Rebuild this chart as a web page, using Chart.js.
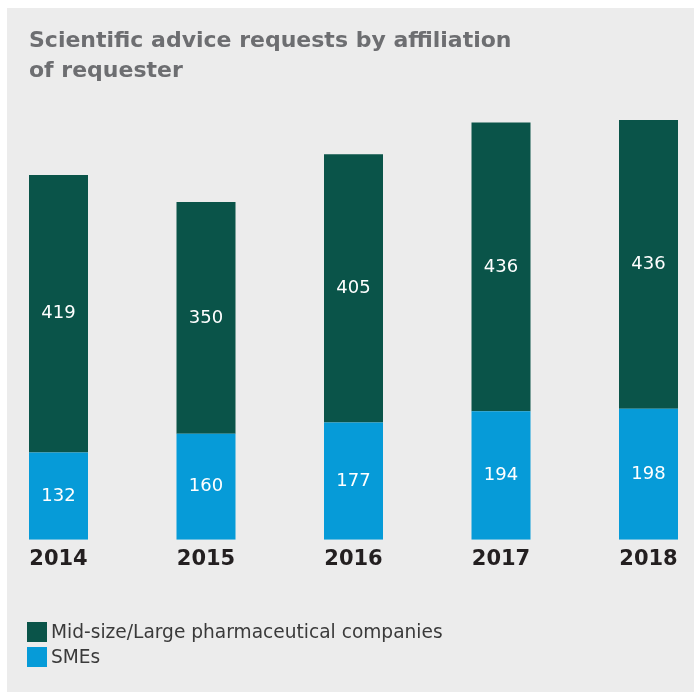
<!DOCTYPE html>
<html>
<head>
<meta charset="utf-8">
<script src="https://cdn.jsdelivr.net/npm/chart.js@4"></script>
<style>
  html, body { margin: 0; padding: 0; background: #ffffff; }
  #panel { position: absolute; left: 7px; top: 8px; width: 687px; height: 684px; background: #ececec; }
</style>
</head>
<body>
<div id="panel"><canvas id="myChart" width="687" height="684"></canvas></div>
<script>
const years = ['2014', '2015', '2016', '2017', '2018'];
const largeCompanies = [419, 350, 405, 436, 436];
const smes = [132, 160, 177, 194, 198];
const seriesNames = ['Mid-size/Large pharmaceutical companies', 'SMEs'];

const FONT = '"DejaVu Sans", Verdana, sans-serif';
const ctx = document.getElementById('myChart').getContext('2d');

// values written in the middle of each bar segment
const segmentLabels = {
    id: 'segmentLabels',
    afterDatasetsDraw(chart) {
        const c = chart.ctx;
        c.save();
        c.font = '18px ' + FONT;
        c.fillStyle = '#ffffff';
        c.textAlign = 'center';
        c.textBaseline = 'middle';
        chart.data.datasets.forEach((ds, i) => {
            chart.getDatasetMeta(i).data.forEach((bar, j) => {
                c.fillText(String(ds.data[j].y), bar.x, (bar.y + bar.base) / 2);
            });
        });
        c.restore();
    }
};

// stacked legend in the bottom left corner
const columnLegend = {
    id: 'columnLegend',
    afterDraw(chart) {
        const c = chart.ctx;
        c.save();
        c.font = '18.6px ' + FONT;
        c.textBaseline = 'middle';
        c.textAlign = 'left';
        const order = [1, 0];
        order.forEach((dsIndex, row) => {
            const ds = chart.data.datasets[dsIndex];
            const y = 614 + row * 25;
            c.fillStyle = ds.backgroundColor;
            c.fillRect(20, y, 20, 20);
            c.fillStyle = '#3a3a3a';
            c.fillText(ds.label, 44, y + 11);
        });
        c.restore();
    }
};

const myChart = new Chart(ctx, {
    type: 'bar',
    data: {
        datasets: [{
            label: seriesNames[1],
            data: smes.map((v, i) => ({ x: i, y: v })),
            backgroundColor: '#069bd8',
            barPercentage: 0.4,
            categoryPercentage: 1
        }, {
            label: seriesNames[0],
            data: largeCompanies.map((v, i) => ({ x: i, y: v })),
            backgroundColor: '#0a5449',
            barPercentage: 0.4,
            categoryPercentage: 1
        }]
    },
    options: {
        responsive: false,
        animation: false,
        layout: {
            padding: { left: 22, right: 16, top: 0, bottom: 113 }
        },
        scales: {
            x: {
                type: 'linear',
                stacked: true,
                offset: false,
                min: -0.2,
                max: 4.2,
                grid: { display: false, drawTicks: false },
                border: { display: false },
                ticks: {
                    stepSize: 1,
                    includeBounds: false,
                    padding: 7,
                    maxRotation: 0,
                    color: '#231f20',
                    font: { family: FONT, size: 21, weight: 'bold' },
                    callback: (value) => years[value] || ''
                }
            },
            y: {
                stacked: true,
                display: false,
                min: 0,
                max: 652
            }
        },
        plugins: {
            legend: { display: false },
            tooltip: { enabled: false },
            title: {
                display: true,
                text: ['Scientific advice requests by affiliation', 'of requester'],
                align: 'start',
                color: '#6d6e71',
                font: { family: FONT, size: 22, weight: 'bold', lineHeight: '30px' },
                padding: { top: 18, bottom: 22 }
            }
        }
    },
    plugins: [segmentLabels, columnLegend]
});
</script>
</body>
</html>
